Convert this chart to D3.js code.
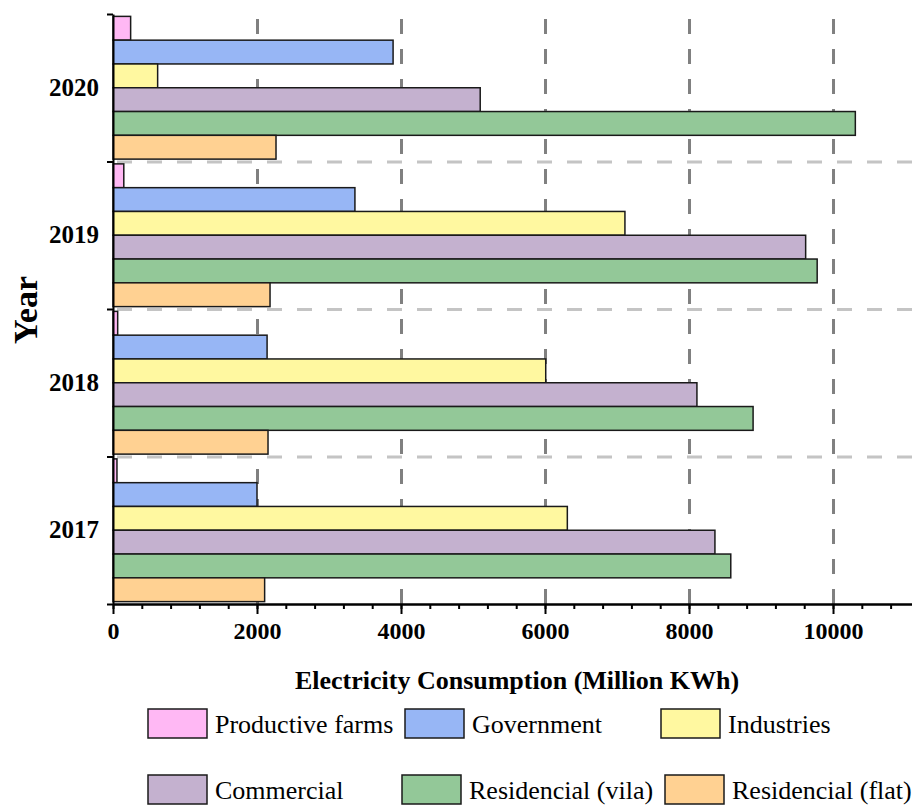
<!DOCTYPE html>
<html>
<head>
<meta charset="utf-8">
<script src="https://cdn.jsdelivr.net/npm/d3@7"></script>
<style>
    body { margin: 0; background: #fff; }
    svg text { font-family: "Liberation Serif", "Times New Roman", serif; fill: #000; }
    .axis path, .axis line { stroke: #000; stroke-width: 2; }
    .axis text { font-size: 24px; font-weight: bold; font-family: "Liberation Serif", serif; }
    .grid line { stroke-dasharray: 15, 15; stroke-width: 3; }
    .grid path { display: none; }
</style>
</head>
<body>
<div id="chart"></div>
<script>

// data (Million KWh)
const years = ["2020", "2019", "2018", "2017"];
const sectors = ["Productive farms", "Government", "Industries", "Commercial", "Residencial (vila)", "Residencial (flat)"];
const productiveFarms = [245, 150, 65, 55];
const government = [3890, 3360, 2140, 2000];
const industries = [620, 7110, 6010, 6310];
const commercial = [5100, 9620, 8110, 8360];
const residencialVila = [10310, 9780, 8890, 8580];
const residencialFlat = [2264, 2181, 2153, 2106];
const xTickValues = [0, 2000, 4000, 6000, 8000, 10000];
const colors = ["#ffb8f4", "#97b6f5", "#fff8a0", "#c4b1cf", "#93c898", "#ffd192"];

const seriesValues = [productiveFarms, government, industries, commercial, residencialVila, residencialFlat];

class BarVis {

    constructor(parentElement) {
        this.parentElement = parentElement;
        this.initVis();
    }

    initVis() {
        let vis = this;

        vis.margin = {top: 14, left: 113};
        vis.width = 912 - vis.margin.left;
        vis.height = 590;

        vis.svg = d3.select("#" + vis.parentElement).append("svg")
            .attr("width", 912)
            .attr("height", 808)
            .append("g")
            .attr("transform", `translate(${vis.margin.left}, ${vis.margin.top})`);

        // scales
        vis.x = d3.scaleLinear()
            .domain([0, 11097])
            .range([0, vis.width]);

        vis.y = d3.scaleBand()
            .domain(years)
            .range([0, vis.height]);

        vis.ySub = d3.scaleBand()
            .domain(sectors)
            .range([0, vis.y.bandwidth()])
            .paddingOuter(0.1);

        vis.yEdge = d3.scaleLinear()
            .domain([0, years.length])
            .range([0, vis.height]);

        // vertical grid (dark)
        vis.svg.append("g")
            .attr("class", "grid")
            .attr("transform", `translate(0, ${vis.height})`)
            .call(d3.axisBottom(vis.x).tickValues(xTickValues.slice(1)).tickSize(-vis.height - 1).tickFormat(""))
            .selectAll("line").attr("stroke", "#808080");

        // horizontal grid between years (light)
        vis.svg.append("g")
            .attr("class", "grid")
            .attr("transform", `translate(${vis.width}, 0)`)
            .call(d3.axisLeft(vis.yEdge).tickValues([1, 2, 3]).tickSize(vis.width).tickFormat(""))
            .selectAll("line").attr("stroke", "#c4c4c4");

        // bars
        vis.groups = vis.svg.selectAll(".year")
            .data(years)
            .enter()
            .append("g")
            .attr("class", "year")
            .attr("transform", d => `translate(0, ${vis.y(d)})`);

        vis.groups.selectAll("rect")
            .data((d, i) => sectors.map((s, j) => ({sector: s, value: seriesValues[j][i], k: j})))
            .enter()
            .append("rect")
            .attr("x", vis.x(0))
            .attr("y", d => vis.ySub(d.sector))
            .attr("width", d => vis.x(d.value) - vis.x(0))
            .attr("height", vis.ySub.bandwidth())
            .attr("fill", d => colors[d.k])
            .attr("stroke", "#1a1a1a")
            .attr("stroke-width", 1.5);

        // x axis: minor then major ticks
        vis.svg.append("g")
            .attr("class", "axis")
            .attr("transform", `translate(0, ${vis.height})`)
            .call(d3.axisBottom(vis.x).tickValues(d3.range(0, 11000, 400)).tickSize(5).tickSizeOuter(0).tickFormat(""));

        vis.svg.append("g")
            .attr("class", "axis")
            .attr("transform", `translate(0, ${vis.height})`)
            .call(d3.axisBottom(vis.x).tickValues(xTickValues).tickSize(10).tickSizeOuter(0).tickPadding(8).tickFormat(d3.format("d")));

        // y axis: boundary ticks and year labels
        vis.svg.append("g")
            .attr("class", "axis")
            .call(d3.axisLeft(vis.yEdge).ticks(years.length).tickSize(6).tickSizeOuter(0).tickFormat(""));

        vis.svg.append("g")
            .attr("class", "axis y-labels")
            .call(d3.axisLeft(vis.y).tickSize(0).tickPadding(14))
            .call(g => g.select(".domain").remove())
            .selectAll("text")
            .style("font-size", "25px");

        // axis titles
        vis.svg.append("text")
            .attr("x", 404)
            .attr("y", 675)
            .attr("text-anchor", "middle")
            .style("font-family", "'Liberation Serif', serif")
            .style("font-size", "26px")
            .style("font-weight", "bold")
            .text("Electricity Consumption (Million KWh)");

        vis.svg.append("text")
            .attr("transform", `translate(-76, ${vis.height / 2 + 1}) rotate(-90)`)
            .attr("text-anchor", "middle")
            .style("font-family", "'Liberation Serif', serif")
            .style("font-size", "34px")
            .style("font-weight", "bold")
            .text("Year");

        // legend
        vis.legendPos = [[148, 709], [405, 709], [661, 709], [148, 775], [402, 775], [665, 775]];
        vis.legend = d3.select("#" + vis.parentElement).select("svg")
            .selectAll(".legend")
            .data(sectors)
            .enter()
            .append("g")
            .attr("class", "legend")
            .attr("transform", (d, i) => `translate(${vis.legendPos[i][0]}, ${vis.legendPos[i][1]})`);

        vis.legend.append("rect")
            .attr("width", 59)
            .attr("height", 29)
            .attr("fill", (d, i) => colors[i])
            .attr("stroke", "#1a1a1a")
            .attr("stroke-width", 1.5);

        vis.legend.append("text")
            .attr("x", 67)
            .attr("y", 24)
            .style("font-size", "26px")
            .text(d => d);
    }
}

new BarVis("chart");
</script>
</body>
</html>
